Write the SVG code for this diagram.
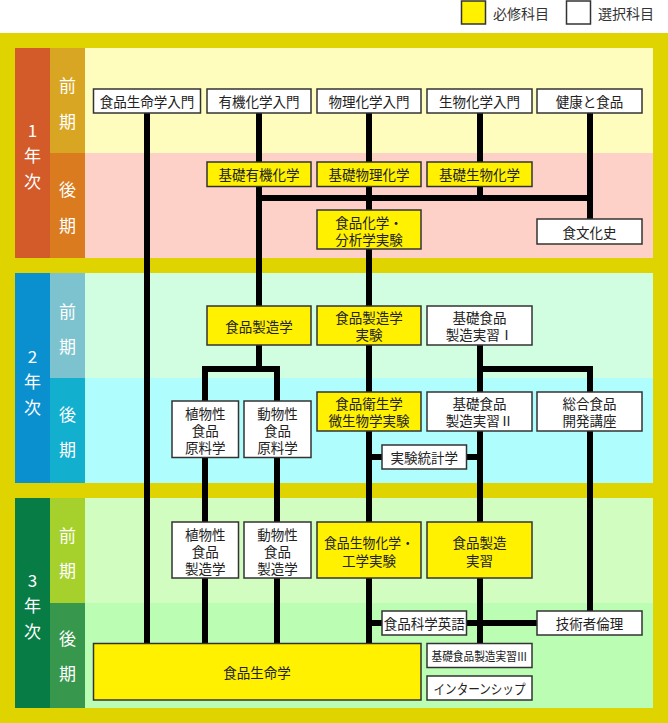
<svg xmlns="http://www.w3.org/2000/svg" width="668" height="723" viewBox="0 0 668 723">
<style>
  .bx { stroke: #333; stroke-width: 1.5; }
  .req { fill: #FFF100; }
  .opt { fill: #FFFFFF; }
  .t { font-family: "Noto Sans CJK JP", "Noto Sans", sans-serif; font-size: 13.5px; fill: #222; text-anchor: middle; dominant-baseline: central; }
  .lg { font-family: "Noto Sans CJK JP", "Noto Sans", sans-serif; font-size: 14px; fill: #333; dominant-baseline: central; }
  .lbl { font-family: "Noto Sans CJK JP", "Noto Sans", sans-serif; font-size: 17px; fill: #FFFFFF; text-anchor: middle; dominant-baseline: central; }
  .ln { stroke: #000; stroke-width: 6; fill: none; stroke-linejoin: miter; }
</style>
<rect x="0" y="0" width="668" height="723" fill="#FFFFFF"/>
<g id="legend">
  <rect x="461.5" y="1" width="24" height="23" class="bx req"/>
  <text x="493" y="13" class="lg">必修科目</text>
  <rect x="566.5" y="1" width="24" height="23" class="bx opt"/>
  <text x="598" y="13" class="lg">選択科目</text>
</g>
<g id="frame">
  <rect x="0" y="33" width="668" height="690" fill="#E0D400"/>
  <rect x="15" y="48" width="35" height="210" fill="#D35A29"/>
  <rect x="50" y="48" width="35" height="105" fill="#D9A623"/>
  <rect x="50" y="153" width="35" height="105" fill="#D97B1E"/>
  <rect x="85" y="48" width="568" height="105" fill="#FFFDBE"/>
  <rect x="85" y="153" width="568" height="105" fill="#FDD0C8"/>
  <rect x="15" y="273" width="35" height="210" fill="#0A8FCF"/>
  <rect x="50" y="273" width="35" height="105" fill="#7DC3CF"/>
  <rect x="50" y="378" width="35" height="105" fill="#12AFCF"/>
  <rect x="85" y="273" width="568" height="105" fill="#D1FDE1"/>
  <rect x="85" y="378" width="568" height="105" fill="#AFFEFD"/>
  <rect x="15" y="498" width="35" height="210" fill="#077D45"/>
  <rect x="50" y="498" width="35" height="105" fill="#A6D12D"/>
  <rect x="50" y="603" width="35" height="105" fill="#37974C"/>
  <rect x="85" y="498" width="568" height="105" fill="#D2FDC0"/>
  <rect x="85" y="603" width="568" height="105" fill="#BBFDB3"/>
</g>
<g id="labels">
  <text x="32.5" y="129" class="lbl">1</text>
  <text x="32.5" y="154" class="lbl">年</text>
  <text x="32.5" y="180" class="lbl">次</text>
  <text x="67.5" y="84" class="lbl">前</text>
  <text x="67.5" y="120" class="lbl">期</text>
  <text x="67.5" y="188" class="lbl">後</text>
  <text x="67.5" y="224" class="lbl">期</text>
  <text x="32.5" y="355" class="lbl">2</text>
  <text x="32.5" y="380" class="lbl">年</text>
  <text x="32.5" y="406" class="lbl">次</text>
  <text x="67.5" y="310" class="lbl">前</text>
  <text x="67.5" y="345" class="lbl">期</text>
  <text x="67.5" y="413" class="lbl">後</text>
  <text x="67.5" y="448" class="lbl">期</text>
  <text x="32.5" y="579" class="lbl">3</text>
  <text x="32.5" y="604" class="lbl">年</text>
  <text x="32.5" y="630" class="lbl">次</text>
  <text x="67.5" y="534" class="lbl">前</text>
  <text x="67.5" y="569" class="lbl">期</text>
  <text x="67.5" y="637" class="lbl">後</text>
  <text x="67.5" y="672" class="lbl">期</text>
</g>
<g id="connectors">
  <path class="ln" d="M147 113 V643"/>
  <path class="ln" d="M259 113 V369"/>
  <path class="ln" d="M369 113 V643"/>
  <path class="ln" d="M480 113 V198"/>
  <path class="ln" d="M590 113 V219"/>
  <path class="ln" d="M259 198 H590"/>
  <path class="ln" d="M205 643 V369 H277 V643"/>
  <path class="ln" d="M480 345 V643"/>
  <path class="ln" d="M480 369 H590 V611"/>
  <path class="ln" d="M369 457 H480"/>
  <path class="ln" d="M369 623 H537"/>
</g>
<g id="n-shokuhin-seimeigaku-nyumon"><rect x="93.5" y="89" width="107" height="24" class="bx opt"/><text x="147" y="101" class="t">食品生命学入門</text></g>
<g id="n-yuki-nyumon"><rect x="207" y="89" width="104" height="24" class="bx opt"/><text x="259" y="101" class="t">有機化学入門</text></g>
<g id="n-butsuri-nyumon"><rect x="317" y="89" width="104" height="24" class="bx opt"/><text x="369" y="101" class="t">物理化学入門</text></g>
<g id="n-seibutsu-nyumon"><rect x="427" y="89" width="105" height="24" class="bx opt"/><text x="479.5" y="101" class="t">生物化学入門</text></g>
<g id="n-kenko"><rect x="537" y="89" width="105" height="24" class="bx opt"/><text x="589.5" y="101" class="t">健康と食品</text></g>
<g id="n-kiso-yuki"><rect x="207" y="162" width="104" height="24.5" class="bx req"/><text x="259" y="174" class="t">基礎有機化学</text></g>
<g id="n-kiso-butsuri"><rect x="317" y="162" width="104" height="24.5" class="bx req"/><text x="369" y="174" class="t">基礎物理化学</text></g>
<g id="n-kiso-seibutsu"><rect x="427" y="162" width="105" height="24.5" class="bx req"/><text x="479.5" y="174" class="t">基礎生物化学</text></g>
<g id="n-shokuhin-kagaku-jikken"><rect x="317" y="210" width="104" height="39" class="bx req"/><text x="369" y="221.5" class="t">食品化学・<tspan x="369" dy="17">分析学実験</tspan></text></g>
<g id="n-shokubunkashi"><rect x="537" y="219" width="105" height="25" class="bx opt"/><text x="589.5" y="231.5" class="t">食文化史</text></g>
<g id="n-seizogaku"><rect x="207" y="306" width="104" height="39" class="bx req"/><text x="259" y="325.5" class="t">食品製造学</text></g>
<g id="n-seizogaku-jikken"><rect x="317" y="306" width="104" height="39" class="bx req"/><text x="369" y="317" class="t">食品製造学<tspan x="369" dy="17">実験</tspan></text></g>
<g id="n-kiso-jisshu1"><rect x="427" y="306" width="105" height="39" class="bx opt"/><text x="479.5" y="317" class="t">基礎食品<tspan x="479.5" dy="17">製造実習Ⅰ</tspan></text></g>
<g id="n-shokubutsu-genryo"><rect x="172" y="401" width="66.5" height="56.5" class="bx opt"/><text x="205.25" y="413.3" class="t">植物性<tspan x="205.25" dy="16.7">食品</tspan><tspan x="205.25" dy="16.7">原料学</tspan></text></g>
<g id="n-dobutsu-genryo"><rect x="244" y="401" width="67" height="56.5" class="bx opt"/><text x="277.5" y="413.3" class="t">動物性<tspan x="277.5" dy="16.7">食品</tspan><tspan x="277.5" dy="16.7">原料学</tspan></text></g>
<g id="n-eisei-jikken"><rect x="317" y="392" width="104" height="39" class="bx req"/><text x="369" y="403" class="t">食品衛生学<tspan x="369" dy="17">微生物学実験</tspan></text></g>
<g id="n-kiso-jisshu2"><rect x="427" y="392" width="105" height="39" class="bx opt"/><text x="479.5" y="403" class="t">基礎食品<tspan x="479.5" dy="17">製造実習Ⅱ</tspan></text></g>
<g id="n-sogo"><rect x="537" y="392" width="105" height="39" class="bx opt"/><text x="589.5" y="403" class="t">総合食品<tspan x="589.5" dy="17">開発講座</tspan></text></g>
<g id="n-tokei"><rect x="382" y="445" width="84.5" height="24" class="bx opt"/><text x="424.25" y="457" class="t">実験統計学</text></g>
<g id="n-shokubutsu-seizo"><rect x="172" y="522" width="66.5" height="56" class="bx opt"/><text x="205.25" y="533.5" class="t">植物性<tspan x="205.25" dy="17.4">食品</tspan><tspan x="205.25" dy="17.4">製造学</tspan></text></g>
<g id="n-dobutsu-seizo"><rect x="244" y="522" width="67" height="56" class="bx opt"/><text x="277.5" y="533.5" class="t">動物性<tspan x="277.5" dy="17.4">食品</tspan><tspan x="277.5" dy="17.4">製造学</tspan></text></g>
<g id="n-seibutsu-kogaku-jikken"><rect x="317" y="522" width="104" height="56" class="bx req"/><text x="369" y="541.5" class="t"><tspan textLength="90" lengthAdjust="spacingAndGlyphs">食品生物化学・</tspan><tspan x="369" dy="18">工学実験</tspan></text></g>
<g id="n-seizo-jisshu"><rect x="427" y="522" width="105" height="56" class="bx req"/><text x="479.5" y="541.5" class="t">食品製造<tspan x="479.5" dy="18">実習</tspan></text></g>
<g id="n-eigo"><rect x="382" y="611" width="84.5" height="24" class="bx opt"/><text x="424.25" y="623" class="t">食品科学英語</text></g>
<g id="n-rinri"><rect x="537" y="611" width="105" height="24" class="bx opt"/><text x="589.5" y="623" class="t">技術者倫理</text></g>
<g id="n-seimeigaku"><rect x="93.5" y="643.5" width="327.5" height="56.5" class="bx req"/><text x="257" y="671.5" class="t">食品生命学</text></g>
<g id="n-kiso-jisshu3"><rect x="427" y="643.5" width="105" height="24" class="bx opt"/><text x="479.5" y="655.5" class="t" style="font-size:12px" textLength="96" lengthAdjust="spacingAndGlyphs">基礎食品製造実習Ⅲ</text></g>
<g id="n-intern"><rect x="427" y="676" width="105" height="24" class="bx opt"/><text x="479.5" y="688" class="t" textLength="92" lengthAdjust="spacingAndGlyphs">インターンシップ</text></g>
</svg>
